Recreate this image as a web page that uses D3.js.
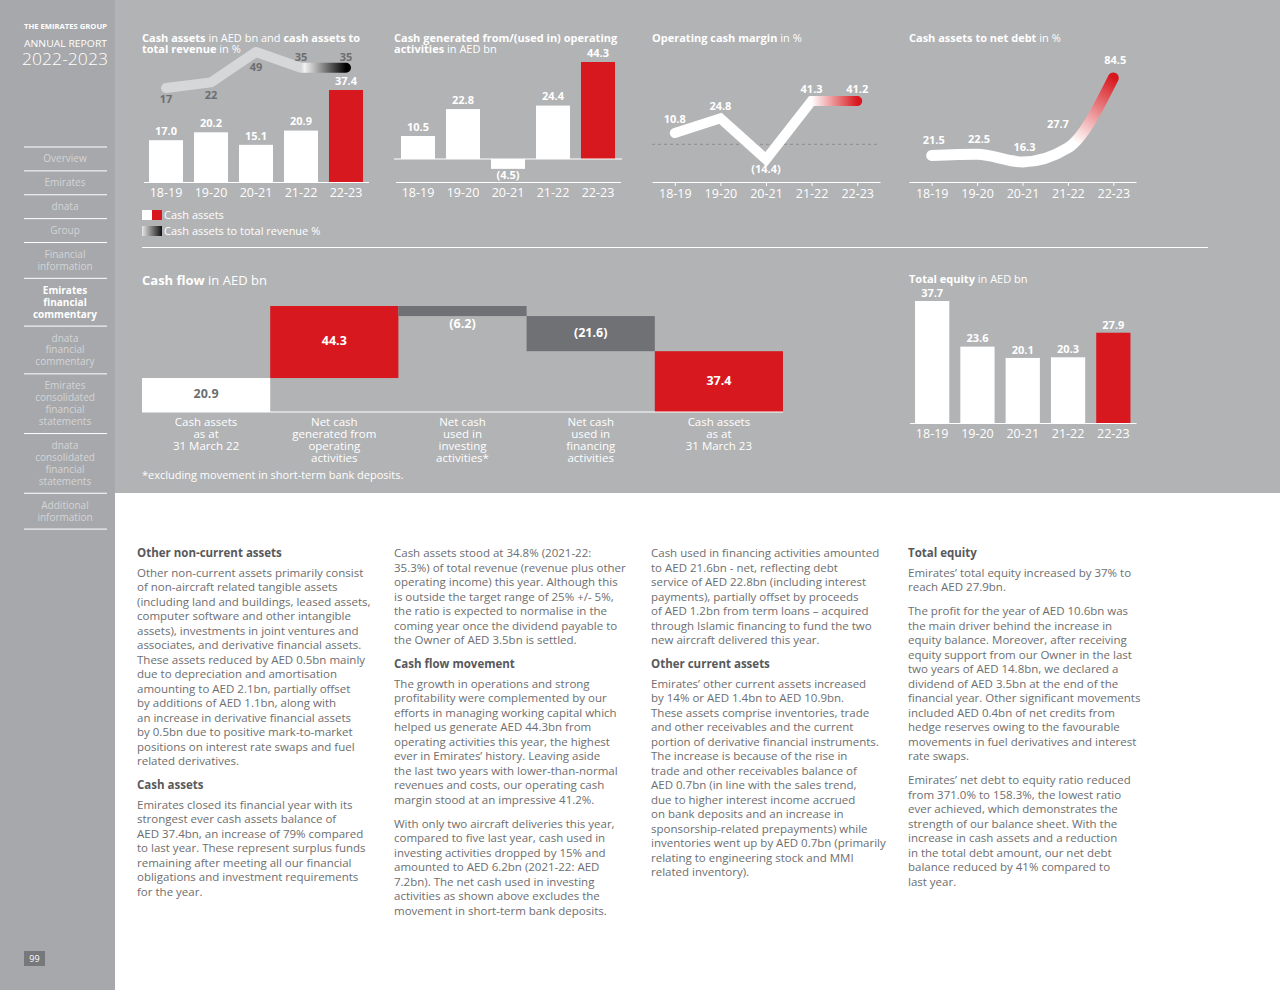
<!DOCTYPE html>
<html><head><meta charset="utf-8">
<script src="https://cdn.jsdelivr.net/npm/d3@7"></script>
<style>body{margin:0;background:#fff}svg{display:block;font-family:"Open Sans",sans-serif}</style>
</head><body><svg id="c" width="1280" height="990"></svg>
<script>
// ---------- DATA ----------
const categories = ["18-19","19-20","20-21","21-22","22-23"];
const cashAssets = [17.0,20.2,15.1,20.9,37.4];
const cashToRevenue = [17,22,49,35,35];
const operatingCash = [10.5,22.8,-4.5,24.4,44.3];
const operatingMargin = [10.8,24.8,-14.4,41.3,41.2];
const cashToNetDebt = [21.5,22.5,16.3,27.7,84.5];
const totalEquity = [37.7,23.6,20.1,20.3,27.9];
const flowLabels = [["Cash assets","as at","31 March 22"],["Net cash","generated from","operating","activities"],["Net cash","used in","investing","activities*"],["Net cash","used in","financing","activities"],["Cash assets","as at","31 March 23"]];
const flowValues = [20.9,44.3,-6.2,-21.6,37.4];
const flowIsTotal = [true,false,false,false,true];
const navItems = [["Overview"],["Emirates"],["dnata"],["Group"],["Financial","information"],["Emirates","financial","commentary"],["dnata","financial","commentary"],["Emirates","consolidated","financial","statements"],["dnata","consolidated","financial","statements"],["Additional","information"]];
const activeNav = 5;
const columns = [
 [{h:"Other non-current assets"},{p:["Other non-current assets primarily consist","of non-aircraft related tangible assets","(including land and buildings, leased assets,","computer software and other intangible","assets), investments in joint ventures and","associates, and derivative financial assets.","These assets reduced by AED 0.5bn mainly","due to depreciation and amortisation","amounting to AED 2.1bn, partially offset","by additions of AED 1.1bn, along with","an increase in derivative financial assets","by 0.5bn due to positive mark-to-market","positions on interest rate swaps and fuel","related derivatives."]},
  {h:"Cash assets"},{p:["Emirates closed its financial year with its","strongest ever cash assets balance of","AED 37.4bn, an increase of 79% compared","to last year. These represent surplus funds","remaining after meeting all our financial","obligations and investment requirements","for the year."]}],
 [{p:["Cash assets stood at 34.8% (2021-22:","35.3%) of total revenue (revenue plus other","operating income) this year. Although this","is outside the target range of 25% +/- 5%,","the ratio is expected to normalise in the","coming year once the dividend payable to","the Owner of AED 3.5bn is settled."]},
  {h:"Cash flow movement"},{p:["The growth in operations and strong","profitability were complemented by our","efforts in managing working capital which","helped us generate AED 44.3bn from","operating activities this year, the highest","ever in Emirates’ history. Leaving aside","the last two years with lower-than-normal","revenues and costs, our operating cash","margin stood at an impressive 41.2%."]},
  {p:["With only two aircraft deliveries this year,","compared to five last year, cash used in","investing activities dropped by 15% and","amounted to AED 6.2bn (2021-22: AED","7.2bn). The net cash used in investing","activities as shown above excludes the","movement in short-term bank deposits."]}],
 [{p:["Cash used in financing activities amounted","to AED 21.6bn - net, reflecting debt","service of AED 22.8bn (including interest","payments), partially offset by proceeds","of AED 1.2bn from term loans – acquired","through Islamic financing to fund the two","new aircraft delivered this year."]},
  {h:"Other current assets"},{p:["Emirates’ other current assets increased","by 14% or AED 1.4bn to AED 10.9bn.","These assets comprise inventories, trade","and other receivables and the current","portion of derivative financial instruments.","The increase is because of the rise in","trade and other receivables balance of","AED 0.7bn (in line with the sales trend,","due to higher interest income accrued","on bank deposits and an increase in","sponsorship-related prepayments) while","inventories went up by AED 0.7bn (primarily","relating to engineering stock and MMI","related inventory)."]}],
 [{h:"Total equity"},{p:["Emirates’ total equity increased by 37% to","reach AED 27.9bn."]},
  {p:["The profit for the year of AED 10.6bn was","the main driver behind the increase in","equity balance. Moreover, after receiving","equity support from our Owner in the last","two years of AED 14.8bn, we declared a","dividend of AED 3.5bn at the end of the","financial year. Other significant movements","included AED 0.4bn of net credits from","hedge reserves owing to the favourable","movements in fuel derivatives and interest","rate swaps."]},
  {p:["Emirates’ net debt to equity ratio reduced","from 371.0% to 158.3%, the lowest ratio","ever achieved, which demonstrates the","strength of our balance sheet. With the","increase in cash assets and a reduction","in the total debt amount, our net debt","balance reduced by 41% compared to","last year."]}]
];

// ---------- STYLE ----------
const RED="#d7191f", PANEL="#b2b3b5", SIDE="#a6a8ab", DARK="#6d6e71";
const svg=d3.select("#c");
const defs=svg.append("defs");
const fmt=v=>v<0?`(${Math.abs(v).toFixed(1)})`:v.toFixed(1);
const last=categories.length-1;

svg.append("rect").attr("width",1280).attr("height",990).attr("fill","#fff");
svg.append("rect").attr("x",115).attr("width",1165).attr("height",493).attr("fill",PANEL);
svg.append("rect").attr("width",115).attr("height",990).attr("fill",SIDE);

// ---------- SIDEBAR ----------
svg.append("text").attr("x",24).attr("y",27).attr("dy","0.35em").attr("fill","#fff").attr("font-size",7).attr("font-weight",700).attr("textLength",83).attr("lengthAdjust","spacingAndGlyphs").text("THE EMIRATES GROUP");
svg.append("text").attr("x",24).attr("y",44).attr("dy","0.35em").attr("fill","#fff").attr("font-size",9.5).attr("textLength",83).attr("lengthAdjust","spacingAndGlyphs").text("ANNUAL REPORT");
svg.append("text").attr("x",22).attr("y",59).attr("dy","0.35em").attr("fill","#fff").attr("font-size",16).attr("font-weight",300).attr("textLength",86).attr("lengthAdjust","spacingAndGlyphs").text("2022-2023");
{
  const step=11.94; let y=147;
  const nav=svg.append("g");
  const line=yy=>nav.append("line").attr("x1",24).attr("x2",107).attr("y1",yy).attr("y2",yy).attr("stroke","#fff").attr("stroke-width",1);
  line(y);
  navItems.forEach((it,i)=>{
    it.forEach(t=>{ y+=step;
      nav.append("text").attr("x",65).attr("y",y).attr("dy","0.35em").attr("text-anchor","middle")
        .attr("font-size",10).attr("fill",i===activeNav?"#fff":"#d4d5d7").attr("font-weight",i===activeNav?700:400).text(t);
    });
    y+=step; line(y);
  });
}
svg.append("rect").attr("x",24).attr("y",951).attr("width",21).attr("height",15).attr("fill","#77787b");
svg.append("text").attr("x",34.5).attr("y",958.5).attr("dy","0.35em").attr("text-anchor","middle").attr("fill","#fff").attr("font-size",9).text("99");

// ---------- HELPERS ----------
function title(x,y,parts,size){
  const t=svg.append("text").attr("x",x).attr("y",y).attr("dy","0.35em").attr("fill","#fff").attr("font-size",size||11);
  parts.forEach(p=>t.append("tspan").attr("font-weight",p[1]?700:400).text(p[0]));
  return t;
}
function axis(x,y,ticks){
  const a=d3.axisBottom(x).tickSizeInner(ticks?4:0).tickSizeOuter(0).tickPadding(ticks?3:6);
  const g=svg.append("g").attr("transform",`translate(0,${y})`).call(a);
  g.select(".domain").attr("stroke","#fff");
  g.selectAll(".tick line").attr("stroke","#fff");
  g.selectAll(".tick text").attr("fill","#fff").attr("font-size",12.5).attr("font-family","Open Sans");
  return g;
}
function label(x,y,txt,color,size){
  svg.append("text").attr("x",x).attr("y",y).attr("dy","0.35em").attr("text-anchor","middle")
    .attr("fill",color||"#fff").attr("font-size",size||11).attr("font-weight",700).text(txt);
}
function grad(id,x1,y1,x2,y2,stops){
  const g=defs.append("linearGradient").attr("id",id).attr("gradientUnits","userSpaceOnUse")
    .attr("x1",x1).attr("y1",y1).attr("x2",x2).attr("y2",y2);
  stops.forEach(s=>g.append("stop").attr("offset",s[0]).attr("stop-color",s[1]));
}

// ---------- CHART 1 ----------
{
  title(142,38,[["Cash assets",1],[" in AED bn and ",0],["cash assets to",1]]);
  title(142,49,[["total revenue",1],[" in %",0]]);
  const x=d3.scaleBand().domain(categories).range([143.5,368.5]).paddingInner(0.244).paddingOuter(0.122);
  const y=d3.scaleLinear().domain([0,d3.max(cashAssets)]).range([182,90]);
  svg.append("g").selectAll("rect").data(cashAssets).join("rect")
    .attr("x",(d,i)=>x(categories[i])).attr("width",x.bandwidth())
    .attr("y",d=>y(d)).attr("height",d=>y(0)-y(d)).attr("fill",(d,i)=>i===last?RED:"#fff");
  cashAssets.forEach((d,i)=>label(x(categories[i])+x.bandwidth()/2,y(d)-9,d.toFixed(1)));
  const yr=d3.scaleLinear().domain([17,49]).range([88,52]);
  const cx=c=>x(c)+x.bandwidth()/2;
  grad("g1",cx(categories[last-1]),0,cx(categories[last]),0,[[0,"#d6d7d8"],[0.08,"#f2f2f2"],[1,"#000"]]);
  svg.append("path").attr("d",d3.line().x((d,i)=>cx(categories[i])).y(d=>yr(d))(cashToRevenue))
    .attr("fill","none").attr("stroke","url(#g1)").attr("stroke-width",10).attr("stroke-linecap","round").attr("stroke-linejoin","round");
  cashToRevenue.forEach((d,i)=>label(cx(categories[i]),yr(d)+(i<3?(i===0?11:i===1?13:15):-11),String(d),"#6d6e70"));
  axis(x,182,false);
  // legend
  svg.append("rect").attr("x",142).attr("y",210).attr("width",10).attr("height",10).attr("fill","#fff");
  svg.append("rect").attr("x",152).attr("y",210).attr("width",10).attr("height",10).attr("fill",RED);
  grad("gl",142,0,162,0,[[0,"#e6e6e6"],[1,"#111"]]);
  svg.append("rect").attr("x",142).attr("y",226).attr("width",20).attr("height",10).attr("fill","url(#gl)");
  svg.append("text").attr("x",164).attr("y",215).attr("dy","0.35em").attr("fill","#fff").attr("font-size",11).text("Cash assets");
  svg.append("text").attr("x",164).attr("y",231).attr("dy","0.35em").attr("fill","#fff").attr("font-size",11).text("Cash assets to total revenue %");
}

// ---------- CHART 2 ----------
{
  title(394,38,[["Cash generated from/(used in) operating",1]]);
  title(394,49,[["activities",1],[" in AED bn",0]]);
  const x=d3.scaleBand().domain(categories).range([395.5,620.5]).paddingInner(0.244).paddingOuter(0.122);
  const y=d3.scaleLinear().domain([0,d3.max(operatingCash)]).range([159,62]);
  svg.append("g").selectAll("rect").data(operatingCash).join("rect")
    .attr("x",(d,i)=>x(categories[i])).attr("width",x.bandwidth())
    .attr("y",d=>y(Math.max(0,d))).attr("height",d=>Math.abs(y(0)-y(d))).attr("fill",(d,i)=>i===last?RED:"#fff");
  svg.append("line").attr("x1",394).attr("x2",622).attr("y1",y(0)).attr("y2",y(0)).attr("stroke","#fff");
  operatingCash.forEach((d,i)=>label(x(categories[i])+x.bandwidth()/2,d<0?y(d)+6:y(d)-9,fmt(d)));
  axis(x,182,false);
}

// ---------- CHART 3 ----------
{
  title(652,38,[["Operating cash margin",1],[" in %",0]]);
  const x=d3.scalePoint().domain(categories).range([652,880]).padding(0.5);
  const y=d3.scaleLinear().domain([0,41.3]).range([144.3,101]);
  svg.append("line").attr("x1",652).attr("x2",880).attr("y1",y(0)).attr("y2",y(0)).attr("stroke","#8c8d8f").attr("stroke-dasharray","3,3");
  grad("g3",x(categories[last-1]),0,x(categories[last]),0,[[0,"#fff"],[1,RED]]);
  svg.append("path").attr("d",d3.line().x((d,i)=>x(categories[i])).y(d=>y(d))(operatingMargin))
    .attr("fill","none").attr("stroke","url(#g3)").attr("stroke-width",10).attr("stroke-linecap","round").attr("stroke-linejoin","miter");
  operatingMargin.forEach((d,i)=>label(x(categories[i]),d<0?y(d)+10:y(d)-(i===0?14:12),fmt(d)));
  axis(x,182,true);
}

// ---------- CHART 4 ----------
{
  title(909,38,[["Cash assets to net debt",1],[" in %",0]]);
  const x=d3.scalePoint().domain(categories).range([909,1136]).padding(0.5);
  const y=d3.scaleLinear().domain([0,84.5]).range([182,78]);
  const p=cashToNetDebt.map((d,i)=>[x(categories[i]),y(d)]);
  grad("g4",p[last-1][0],p[last-1][1],p[last][0],p[last][1],[[0.1,"#fff"],[1,RED]]);
  svg.append("path").attr("d",d3.line().curve(d3.curveMonotoneX)(p))
    .attr("fill","none").attr("stroke","url(#g4)").attr("stroke-width",11).attr("stroke-linecap","round").attr("stroke-linejoin","round");
  cashToNetDebt.forEach((d,i)=>label(p[i][0]+(i===last-1?-10:2),p[i][1]-(i===last-1?24:i===last?18:15),d.toFixed(1)));
  axis(x,182,true);
}

svg.append("line").attr("x1",142).attr("x2",1208).attr("y1",247.5).attr("y2",247.5).attr("stroke","#fff").attr("stroke-width",1);

// ---------- WATERFALL ----------
{
  title(142,280,[["Cash flow",1],[" in AED bn",0]],13);
  let cum=0;
  const bars=flowValues.map((v,i)=>{
    let s,e;
    if(flowIsTotal[i]){s=0;e=v;cum=v;} else {s=cum;e=cum+v;cum=e;}
    return {i,v,s,e};
  });
  const x=d3.scaleBand().domain(d3.range(flowValues.length)).range([142,783]);
  const y=d3.scaleLinear().domain([0,d3.max(bars,b=>Math.max(b.s,b.e))]).range([412,306]);
  const col=b=>b.i===0?"#fff":b.v<0?"#707174":RED;
  svg.append("g").selectAll("rect").data(bars).join("rect")
    .attr("x",b=>x(b.i)).attr("width",x.bandwidth())
    .attr("y",b=>y(Math.max(b.s,b.e))).attr("height",b=>Math.abs(y(b.s)-y(b.e))).attr("fill",col);
  svg.append("line").attr("x1",142).attr("x2",783).attr("y1",y(0)).attr("y2",y(0)).attr("stroke","#fff");
  bars.forEach(b=>{
    const top=y(Math.max(b.s,b.e)), bot=y(Math.min(b.s,b.e));
    const h=bot-top;
    label(x(b.i)+x.bandwidth()/2, h<20?bot+8:(top+bot)/2-1, fmt(b.v), b.i===0?"#6d6e70":"#fff", 12.5);
    flowLabels[b.i].forEach((t,k)=>svg.append("text").attr("x",x(b.i)+x.bandwidth()/2).attr("y",422+k*12).attr("dy","0.35em")
      .attr("text-anchor","middle").attr("fill","#fff").attr("font-size",11.5).text(t));
  });
  svg.append("text").attr("x",142).attr("y",475).attr("dy","0.35em").attr("fill","#fff").attr("font-size",11).text("*excluding movement in short-term bank deposits.");
}

// ---------- TOTAL EQUITY ----------
{
  title(909,279,[["Total equity",1],[" in AED bn",0]]);
  const x=d3.scaleBand().domain(categories).range([909.5,1136]).paddingInner(0.244).paddingOuter(0.122);
  const y=d3.scaleLinear().domain([0,d3.max(totalEquity)]).range([423,301]);
  svg.append("g").selectAll("rect").data(totalEquity).join("rect")
    .attr("x",(d,i)=>x(categories[i])).attr("width",x.bandwidth())
    .attr("y",d=>y(d)).attr("height",d=>y(0)-y(d)).attr("fill",(d,i)=>i===last?RED:"#fff");
  totalEquity.forEach((d,i)=>label(x(categories[i])+x.bandwidth()/2,y(d)-8,d.toFixed(1)));
  axis(x,423,false);
}

// ---------- TEXT COLUMNS ----------
{
  const colX=[137,394,651,908];
  columns.forEach((col,ci)=>{
    let y=553, prev=null;
    col.forEach(blk=>{
      if(prev){ y+= prev==="h"?19.5:24; }
      if(blk.h){
        svg.append("text").attr("x",colX[ci]).attr("y",y).attr("dy","0.35em").attr("fill","#58595b").attr("font-size",11.5).attr("font-weight",700).text(blk.h);
        prev="h";
      } else {
        blk.p.forEach((ln,k)=>{
          if(k>0) y+=14.5;
          svg.append("text").attr("x",colX[ci]).attr("y",y).attr("dy","0.35em").attr("fill","#6d6e70").attr("font-size",11.5).text(ln);
        });
        prev="p";
      }
    });
  });
}
</script></body></html>
